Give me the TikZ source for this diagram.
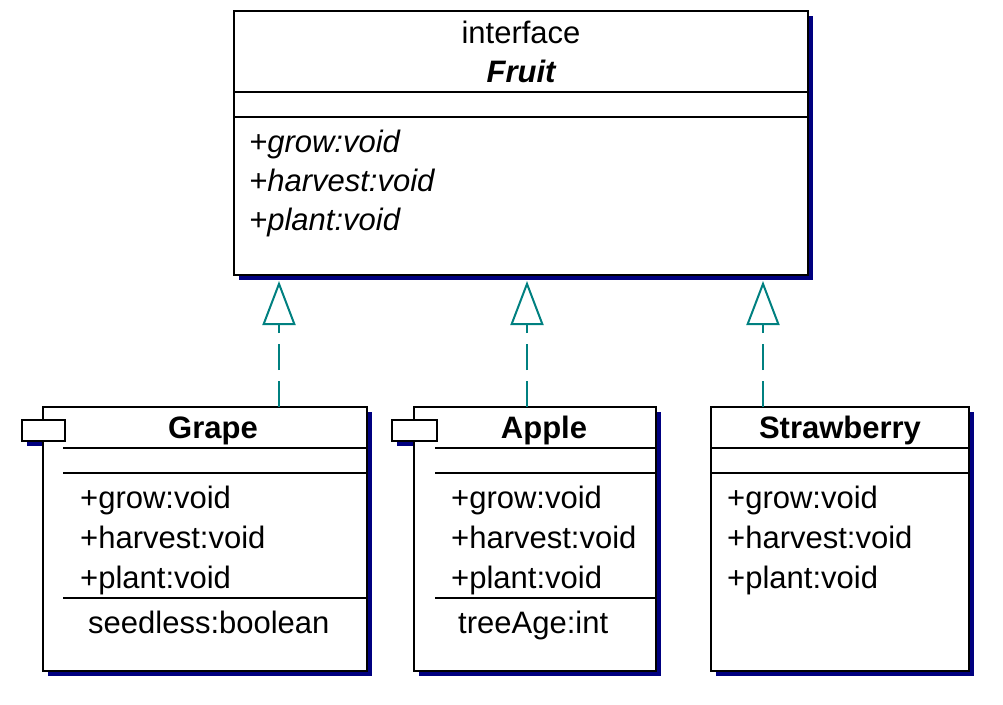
\documentclass[tikz,border=0pt]{standalone}
\usepackage{fontspec}
\setmainfont{Liberation Sans}
\usetikzlibrary{shadows}
\usetikzlibrary{positioning}
\usetikzlibrary{arrows.meta,calc}
\definecolor{umlnavy}{RGB}{0,0,128}
\definecolor{umlteal}{RGB}{0,128,128}
\tikzstyle{navyshadow}=[drop shadow={shadow xshift=5pt,shadow yshift=-5pt,fill=umlnavy,opacity=1}]
\tikzstyle{classbox}=[draw=black,line width=2pt,fill=white,anchor=north west,inner sep=0pt,outer sep=0pt,navyshadow]
\tikzstyle{tabbox}=[draw=black,line width=2pt,fill=white,anchor=north west,inner sep=0pt,outer sep=0pt,minimum height=21pt]
\tikzstyle{separator}=[draw,line width=2pt]
\tikzstyle{member}=[anchor=base west,inner sep=0pt,font=\fontsize{31}{31}\selectfont]
\tikzstyle{title}=[anchor=base,inner sep=0pt,font=\fontsize{31}{31}\selectfont\bfseries]
\tikzstyle{realize}=[draw=umlteal,line width=2pt,dash pattern=on 26pt off 11pt,shorten >=6pt,-{Triangle[open,length=44pt,width=33pt]}]

\begin{document}
\begin{tikzpicture}[x=1pt,y=-1pt]
    \useasboundingbox (0,0) rectangle (1003,704);
    % The interface on top
    \node[classbox, minimum width=574pt, minimum height=264pt] (fruit) at (234,11) {};
    \node[title] (fruitkind) at (521,43) {\mdseries interface};
    \node[title] (fruitname) at (521,82) {\itshape Fruit};
    \draw[separator] ($(fruit.north west)+(0,81)$) -- ($(fruit.north east)+(0,81)$);
    \draw[separator] ($(fruit.north west)+(0,106)$) -- ($(fruit.north east)+(0,106)$);
    \foreach \i/\label in {0/grow, 1/harvest, 2/plant}
        \node[member] (fruit-\label) at (249, 152+39*\i) {\itshape +\label:void};

    % Grape, with its tab (the tab shadow goes under the box)
    \node[tabbox, minimum width=43pt, navyshadow] (grapetabback) at (22,420) {};
    \node[classbox, minimum width=324pt, minimum height=264pt] (grape) at (43,407) {};
    \node[tabbox, minimum width=43pt] (grapetab) at (grapetabback.north west) {};
    \node[title] (grapename) at (213,438) {Grape};
    \foreach \dy in {41, 66, 191}
        \draw[separator] ($(grape.north west)+(20,\dy)$) -- ($(grape.north east)+(0,\dy)$);
    \node[member] (grape-seedless) at (88,633) {seedless:boolean};

    % Apple, also with a tab
    \node[tabbox, minimum width=45pt, navyshadow] (appletabback) at (392,420) {};
    \node[classbox, minimum width=242pt, minimum height=264pt] (apple) at (414,407) {};
    \node[tabbox, minimum width=45pt] (appletab) at (appletabback.north west) {};
    \node[title] (applename) at (544,438) {Apple};
    \foreach \dy in {41, 66, 191}
        \draw[separator] ($(apple.north west)+(21,\dy)$) -- ($(apple.north east)+(0,\dy)$);
    \node[member] (apple-treeage) at (458,633) {treeAge:int};

    % Strawberry
    \node[classbox, minimum width=258pt, minimum height=264pt] (strawberry) at (711,407) {};
    \node[title] (strawberryname) at (840,438) {Strawberry};
    \foreach \dy in {41, 66}
        \draw[separator] ($(strawberry.north west)+(0,\dy)$) -- ($(strawberry.north east)+(0,\dy)$);

    % Operations of the three classes
    \foreach \cls/\x in {grape/80, apple/451, strawberry/727}
        \foreach \i/\label in {0/grow, 1/harvest, 2/plant}
            \node[member] (\cls-\label) at (\x, 508+40*\i) {+\label:void};

    % Realizations up to the interface
    \coordinate (grapeup) at ($(grape.north west)+(236,0)$);
    \coordinate (appleup) at ($(apple.north west)+(113,0)$);
    \coordinate (strawberryup) at ($(strawberry.north west)+(52,0)$);
    \foreach \source in {grapeup, appleup, strawberryup}
        \path[realize] (\source) -- (\source |- fruit.south);
\end{tikzpicture}
\end{document}
